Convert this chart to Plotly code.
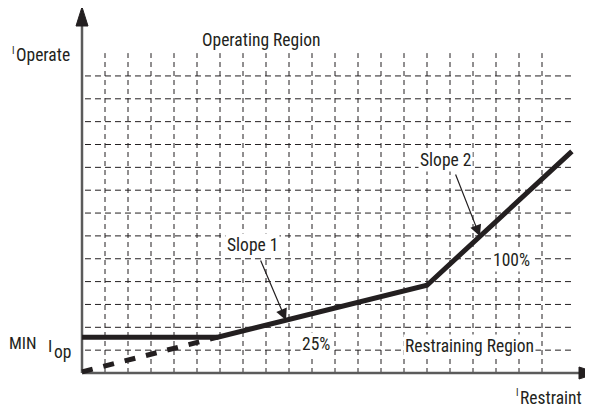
import numpy as np
import plotly.graph_objects as go

# ---- data (grid units) ----
restraint = [0.0, 5.9, 15.0, 21.3]          # I_Restraint breakpoints
operate = [1.57, 1.57, 3.84, 9.7]           # I_Operate characteristic
ext_restraint = [0.0, 5.9]                  # dashed extension
ext_operate = [0.05, 1.57]
grid_x = list(range(1, 21))                 # vertical grid lines
grid_y = list(range(1, 14))                 # horizontal grid lines
slope_tips = [8.87, 17.3]                   # arrow tips on the curve (x)
slope_labels = ["Slope 1", "Slope 2"]
pct_labels = ["25%", "100%"]

# ---- layout constants ----
OFF = 8                      # page body margin
W, H = 593 - OFF, 409 - OFF
PX_X, PX_Y = 23.0, 22.85     # pixels per grid unit
X0, Y0 = 82, 373             # page pixel position of origin
xr = [-(X0 - OFF) / PX_X, (W + OFF - X0) / PX_X]
yr = [(Y0 - OFF - H) / PX_Y, (Y0 - OFF) / PX_Y]

def dx(px):
    return px / PX_X

def dy(px):
    return px / PX_Y

def px2x(px):
    return (px - X0) / PX_X

def px2y(py):
    return (Y0 - py) / PX_Y

INK = "#231f20"
AXC = "#5b5b5b"
FONT = "Liberation Sans Narrow, Arial Narrow, Roboto Condensed, sans-serif"
FS = 17.5

fig = go.Figure()

# grid
gx, gy = [], []
for v in grid_x:
    gx += [v, v, None]
    gy += [0, 14.0, None]
fig.add_trace(go.Scatter(x=gx, y=gy, mode="lines",
                         line=dict(color=INK, width=1, dash="5px,4px"),
                         hoverinfo="skip"))
hx, hy = [], []
for v in grid_y:
    hx += [0.13, 21.35, None]
    hy += [v, v, None]
fig.add_trace(go.Scatter(x=hx, y=hy, mode="lines",
                         line=dict(color=INK, width=1, dash="6px,4px"),
                         hoverinfo="skip"))

# axes
y_top = px2y(7)
x_right = px2x(598)
fig.add_trace(go.Scatter(x=[0, 0], y=[0, y_top - dy(19)], mode="lines",
                         line=dict(color=AXC, width=2.5), hoverinfo="skip"))
fig.add_trace(go.Scatter(x=[0, x_right - dx(19)], y=[0, 0], mode="lines",
                         line=dict(color=AXC, width=2.5), hoverinfo="skip"))
fig.add_trace(go.Scatter(x=[-dx(6), dx(6), 0, -dx(6)],
                         y=[y_top - dy(19), y_top - dy(19), y_top, y_top - dy(19)],
                         mode="lines", fill="toself", fillcolor=INK,
                         line=dict(color=INK, width=1), hoverinfo="skip"))
fig.add_trace(go.Scatter(x=[x_right - dx(19), x_right - dx(19), x_right, x_right - dx(19)],
                         y=[-dy(6), dy(6), 0, -dy(6)],
                         mode="lines", fill="toself", fillcolor=INK,
                         line=dict(color=INK, width=1), hoverinfo="skip"))

# characteristic
fig.add_trace(go.Scatter(x=ext_restraint, y=ext_operate, mode="lines",
                         line=dict(color=INK, width=5, dash="11px,11px"),
                         hoverinfo="skip"))
fig.add_trace(go.Scatter(x=restraint, y=operate, mode="lines",
                         line=dict(color=INK, width=5), hoverinfo="skip"))

ann = []

def text(t, x, y, size=FS, bg=None, xanchor="center"):
    ann.append(dict(x=x, y=y, xref="x", yref="y", text=t, showarrow=False,
                    font=dict(family=FONT, size=size, color=INK),
                    bgcolor=bg, borderpad=1, xanchor=xanchor))

text("Operating Region", px2x(261), px2y(40))
text("Restraining Region", px2x(469), px2y(346), bg="white")
text("MIN", px2x(23), px2y(343), size=17)
text("I", px2x(50), px2y(346), size=17)
text("op", px2x(62), px2y(352))
text("I", px2x(13), px2y(50), size=10)
text("Operate", px2x(43), px2y(55))
text("I", px2x(517), px2y(392), size=10)
text("Restraint", px2x(518), px2y(398), xanchor="left")

# slope labels with arrows
label_pos = [(px2x(252.5), px2y(245)), (px2x(445.5), px2y(160))]
tail_pos = [(px2x(260), px2y(259)), (px2x(455), px2y(173))]
for lab, tipx, (lx, ly), (tx, ty) in zip(slope_labels, slope_tips, label_pos, tail_pos):
    tipy = float(np.interp(tipx, restraint, operate))
    ann.append(dict(x=tipx, y=tipy, xref="x", yref="y", ax=tx, ay=ty,
                    axref="x", ayref="y", text="", showarrow=True,
                    arrowhead=2, arrowsize=1.9, arrowwidth=1.2,
                    arrowcolor=INK, standoff=0))
    text(lab, lx, ly, bg="white")

pct_pos = [(px2x(316), px2y(344)), (px2x(511), px2y(260))]
for lab, (lx, ly) in zip(pct_labels, pct_pos):
    text(lab, lx, ly, bg="white")

fig.update_layout(
    width=W, height=H,
    margin=dict(l=0, r=0, t=0, b=0),
    paper_bgcolor="white", plot_bgcolor="white",
    showlegend=False,
    xaxis=dict(range=xr, visible=False, fixedrange=True),
    yaxis=dict(range=yr, visible=False, fixedrange=True),
    annotations=ann,
)

fig.write_html("out.html", config={"displayModeBar": False})
